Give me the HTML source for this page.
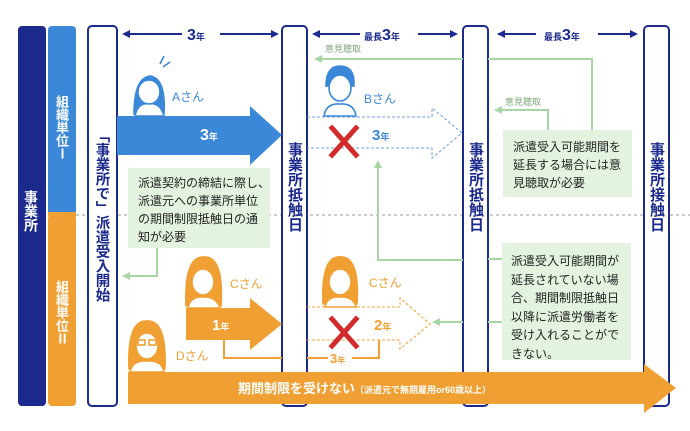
<!DOCTYPE html>
<html><head><meta charset="utf-8"><style>
body{margin:0;width:690px;height:431px;background:#fff;overflow:hidden;font-family:"Liberation Sans","Noto Sans CJK JP",sans-serif;}
.v{position:absolute;writing-mode:vertical-rl;font-weight:bold;line-height:1;}
.g{position:absolute;background:#e3f3e0;color:#222;font-size:12px;line-height:18px;white-space:nowrap;box-sizing:border-box;}
</style></head><body>
<svg width="690" height="431" style="position:absolute;left:0;top:0" font-family="Liberation Sans, Noto Sans CJK JP, sans-serif">
<rect x="18" y="26" width="28" height="380" rx="4" fill="#1b2a8c"/>
<rect x="48" y="26" width="28" height="190" rx="4" fill="#3b87d8"/>
<rect x="48" y="214" width="28" height="192" rx="4" fill="#f0a033"/>
<rect x="48" y="212" width="28" height="4" fill="#f0a033"/>
<line x1="76" y1="215" x2="690" y2="215" stroke="#777" stroke-dasharray="3,3" stroke-width="0.8"/>
<rect x="88" y="26" width="29" height="380" rx="4" fill="#fff" stroke="#1b2a8c" stroke-width="2"/>
<rect x="282" y="26" width="25" height="380" rx="4" fill="#fff" stroke="#1b2a8c" stroke-width="2"/>
<rect x="463" y="26" width="25" height="380" rx="4" fill="#fff" stroke="#1b2a8c" stroke-width="2"/>
<rect x="644" y="26" width="25" height="380" rx="4" fill="#fff" stroke="#1b2a8c" stroke-width="2"/>
<g stroke="#1b2a8c" stroke-width="2" fill="#1b2a8c">
<line x1="128" y1="34" x2="182" y2="34"/><line x1="220" y1="34" x2="274" y2="34"/>
<line x1="318" y1="34" x2="360" y2="34"/><line x1="418" y1="34" x2="456" y2="34"/>
<line x1="498" y1="34" x2="536" y2="34"/><line x1="598" y1="34" x2="636" y2="34"/>
</g>
<g fill="#1b2a8c">
<polygon points="122,34 130,30 130,38"/><polygon points="279,34 271,30 271,38"/>
<polygon points="312,34 320,30 320,38"/><polygon points="458,34 450,30 450,38"/>
<polygon points="497,34 505,30 505,38"/><polygon points="638,34 630,30 630,38"/>
<text x="187" y="40" font-size="16" font-weight="bold">3<tspan font-size="9">年</tspan></text>
<text x="364" y="40" font-size="9" font-weight="bold">最長<tspan font-size="16">3</tspan>年</text>
<text x="544" y="40" font-size="9" font-weight="bold">最長<tspan font-size="16">3</tspan>年</text>
</g>
<g stroke="#a8d5a4" stroke-width="2" fill="none">
<polyline points="463,59 320,59"/>
<polyline points="488,59 592,59 592,130"/>
<polyline points="548,130 548,110 500,110"/>
<polyline points="157,248 157,276 128,276"/>
<polyline points="378,168 378,260 463,260"/>
<line x1="488" y1="259" x2="502" y2="259"/><line x1="488" y1="322" x2="502" y2="322"/>
<line x1="463" y1="322" x2="438" y2="322"/>
</g>
<g fill="#a8d5a4">
<polygon points="314,59 322,55 322,63"/><polygon points="494,110 502,106 502,114"/>
<polygon points="122,276 130,272 130,280"/><polygon points="378,160 374,168 382,168"/>
<polygon points="432,322 440,318 440,326"/>
</g>
<text x="325" y="52" font-size="9" fill="#7fa77b">意見聴取</text>
<text x="505" y="105" font-size="9" fill="#7fa77b">意見聴取</text>
<polygon points="117,116 250,116 250,106 282,135 250,165 250,155 117,155" fill="#3b87d8"/>
<text x="200" y="140" font-size="16" font-weight="bold" fill="#fff">3<tspan font-size="9">年</tspan></text>
<polyline points="307,117 432,117 432,108 462,133 432,158 432,148 307,148" fill="none" stroke="#6d9fe0" stroke-dasharray="3,2" stroke-width="1"/>
<text x="372" y="140" font-size="15" font-weight="bold" fill="#3b87d8">3<tspan font-size="9">年</tspan></text>
<polygon points="186,308 250,308 250,298 282,324 250,350 250,340 186,340" fill="#f0a033"/>
<text x="212" y="330" font-size="15" font-weight="bold" fill="#fff">1<tspan font-size="9">年</tspan></text>
<polyline points="307,307 400,307 400,298 430,324 400,349 400,340 307,340" fill="none" stroke="#f0a033" stroke-dasharray="3,2" stroke-width="1"/>
<text x="374" y="330" font-size="15" font-weight="bold" fill="#f0a033">2<tspan font-size="9">年</tspan></text>
<g stroke="#f0a033" stroke-width="2" fill="none">
<polyline points="224,340 224,358 282,358"/>
<polyline points="307,358 328,358"/><polyline points="352,358 379,358 379,340"/>
</g>
<text x="330" y="363" font-size="13" font-weight="bold" fill="#f0a033">3<tspan font-size="8">年</tspan></text>
<g stroke="#d42a2a" stroke-width="5" stroke-linecap="square">
<line x1="332" y1="128" x2="356" y2="155"/><line x1="356" y1="128" x2="332" y2="155"/>
<line x1="332" y1="319" x2="356" y2="346"/><line x1="356" y1="319" x2="332" y2="346"/>
</g>
<polygon points="128,372 644,372 644,364 676,388 644,413 644,404 128,404" fill="#f0a033"/>
<text x="238" y="393" font-size="13" font-weight="bold" fill="#fff">期間制限を受けない<tspan font-size="9">（派遣元で無期雇用or60歳以上）</tspan></text>
<g stroke="#3b87d8" stroke-width="1.6" fill="#fff">
<path d="M134,114 Q134,78 150,76 Q166,78 164,114 Z" fill="#3b87d8"/>
<ellipse cx="149" cy="92" rx="11" ry="12"/>
<path d="M135,116 Q138,102 149,104 Q160,102 164,116 Z"/>
<line x1="160" y1="64" x2="164" y2="56"/><line x1="163" y1="67" x2="170" y2="62"/>
</g>
<text x="172" y="101" font-size="12" fill="#3b87d8">Aさん</text>
<g stroke="#3b87d8" stroke-width="1.6" fill="#fff">
<path d="M326,86 Q326,66 340,66 Q355,66 354,86 Z" fill="#3b87d8"/>
<ellipse cx="340" cy="88" rx="11" ry="13"/>
<path d="M324,116 Q326,103 340,104 Q354,103 356,116 Z"/>
</g>
<text x="364" y="103" font-size="12" fill="#3b87d8">Bさん</text>
<g stroke="#f0a033" stroke-width="1.6" fill="#fff">
<path d="M186,306 Q184,256 204,257 Q224,256 221,306 Z" fill="#f0a033"/>
<ellipse cx="203" cy="282" rx="11" ry="13"/>
<path d="M188,308 Q190,296 203,297 Q216,296 220,308 Z"/>
</g>
<text x="230" y="288" font-size="12" fill="#f0a033">Cさん</text>
<g stroke="#f0a033" stroke-width="1.6" fill="#fff">
<path d="M323,304 Q321,256 340,257 Q360,256 357,304 Z" fill="#f0a033"/>
<ellipse cx="340" cy="282" rx="11" ry="13"/>
<path d="M325,307 Q327,296 340,297 Q353,296 356,307 Z"/>
</g>
<text x="369" y="287" font-size="12" fill="#f0a033">Cさん</text>
<g stroke="#f0a033" stroke-width="1.6" fill="#fff">
<path d="M129,369 Q127,320 147,321 Q167,320 165,369 Z" fill="#f0a033"/>
<ellipse cx="147" cy="346" rx="11" ry="13"/>
<rect x="138" y="340" width="7" height="5"/><rect x="149" y="340" width="7" height="5"/>
<path d="M130,372 Q132,360 147,361 Q162,360 164,372 Z"/>
</g>
<text x="176" y="360" font-size="12" fill="#f0a033">Dさん</text>
</svg>
<div class="v" style="left:24px;top:190px;color:#fff;font-size:14px;">事業所</div>
<div class="v" style="left:55px;top:95px;color:#fff;font-size:13px;">組織単位Ⅰ</div>
<div class="v" style="left:55px;top:280px;color:#fff;font-size:13px;">組織単位Ⅱ</div>
<div class="v" style="left:94px;top:128px;color:#1b2a8c;font-size:14.5px;">「事業所で」派遣受入開始</div>
<div class="v" style="left:287px;top:142px;color:#1b2a8c;font-size:15px;">事業所抵触日</div>
<div class="v" style="left:468px;top:142px;color:#1b2a8c;font-size:15px;">事業所抵触日</div>
<div class="v" style="left:649px;top:142px;color:#1b2a8c;font-size:15px;">事業所接触日</div>
<div class="g" style="left:128px;top:168px;width:142px;height:80px;padding:6px 0 0 10px;">派遣契約の締結に際し、<br>派遣元への事業所単位<br>の期間制限抵触日の通<br>知が必要</div>
<div class="g" style="left:503px;top:130px;width:129px;height:67px;padding:8px 0 0 10px;">派遣受入可能期間を<br>延長する場合には意<br>見聴取が必要</div>
<div class="g" style="left:502px;top:243px;width:129px;height:117px;padding:9px 0 0 9px;line-height:18.5px;">派遣受入可能期間が<br>延長されていない場<br>合、期間制限抵触日<br>以降に派遣労働者を<br>受け入れることがで<br>きない。</div>
</body></html>
